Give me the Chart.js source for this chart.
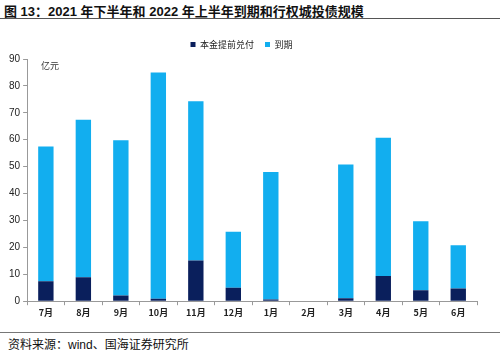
<!DOCTYPE html>
<html>
<head>
<meta charset="utf-8">
<script src="https://cdn.jsdelivr.net/npm/chart.js@4.4.0/dist/chart.umd.min.js"></script>
<style>
  html, body { margin: 0; padding: 0; background: #fff; }
  body { width: 500px; height: 352px; position: relative; overflow: hidden;
         font-family: "Liberation Sans", "Noto Sans CJK SC", sans-serif; }
  #title { position: absolute; left: 4px; top: 1px; font-size: 13px; font-weight: bold; color: #111;
           font-family: "Liberation Sans", "Noto Sans CJK SC", sans-serif; white-space: nowrap; }
  #titleLine { position: absolute; left: 0; top: 18px; width: 500px; height: 1px; background: #555; }
  #footLine { position: absolute; left: 0; top: 332px; width: 500px; height: 1px; background: #777; }
  #source { position: absolute; left: 8px; top: 335px; font-size: 12px; color: #111; white-space: nowrap;
            font-family: "Liberation Sans", "Noto Sans CJK SC", sans-serif; }
  #unit { position: absolute; left: 41px; top: 59px; font-size: 9px; color: #333;
          font-family: "Noto Sans CJK SC", sans-serif; }
  #wrap { position: absolute; left: 0; top: 29px; width: 500px; height: 291px; }
</style>
</head>
<body>
<div id="title">图 13：2021 年下半年和 2022 年上半年到期和行权城投债规模</div>
<div id="titleLine"></div>
<div id="wrap"><canvas id="bondChart"></canvas></div>
<div id="unit">亿元</div>
<div id="footLine"></div>
<div id="source">资料来源：wind、国海证券研究所</div>
<script>
// 月份与数值（亿元）
const months = ['7月', '8月', '9月', '10月', '11月', '12月', '1月', '2月', '3月', '4月', '5月', '6月'];
const earlyRepay = [7.4, 8.9, 2.1, 0.9, 15.1, 5.0, 0.6, 0, 1.1, 9.4, 4.1, 4.7];
const maturity = [50.1, 58.5, 57.7, 84.1, 59.2, 20.8, 47.4, 0, 49.7, 51.3, 25.6, 16.1];
const yTicks = [0, 10, 20, 30, 40, 50, 60, 70, 80, 90];

const tickFont = { family: '"Liberation Sans", "Noto Sans CJK SC", sans-serif', size: 10 };

const ctx = document.getElementById('bondChart');
new Chart(ctx, {
    type: 'bar',
    data: {
        labels: months,
        datasets: [
            {
                label: '本金提前兑付',
                data: earlyRepay,
                backgroundColor: '#0a1f5c',
                barPercentage: 0.41,
                categoryPercentage: 1.0
            },
            {
                label: '到期',
                data: maturity,
                backgroundColor: '#12aeef',
                barPercentage: 0.41,
                categoryPercentage: 1.0
            }
        ]
    },
    options: {
        responsive: true,
        maintainAspectRatio: false,
        animation: false,
        layout: { padding: { left: 6, right: 23, top: 0, bottom: 0 } },
        scales: {
            x: {
                stacked: true,
                grid: { offset: true, drawOnChartArea: false, drawTicks: true, tickLength: 4, color: '#999' },
                border: { color: '#999' },
                ticks: { color: '#222', font: { family: '"Noto Sans CJK SC", sans-serif', size: 9, weight: 'bold' }, padding: 2 }
            },
            y: {
                stacked: true,
                min: 0,
                max: 90,
                afterBuildTicks: (axis) => { axis.ticks = yTicks.map(v => ({ value: v })); },
                grid: { drawOnChartArea: false, drawTicks: true, tickLength: 4, color: '#999' },
                border: { color: '#999' },
                ticks: { color: '#222', font: tickFont, padding: 3 }
            }
        },
        plugins: {
            legend: {
                display: true,
                position: 'top',
                labels: {
                    boxWidth: 5,
                    boxHeight: 5,
                    padding: 11,
                    color: '#222',
                    font: { family: '"Noto Sans CJK SC", sans-serif', size: 9 }
                }
            },
            tooltip: { enabled: false }
        }
    }
});
</script>
</body>
</html>
